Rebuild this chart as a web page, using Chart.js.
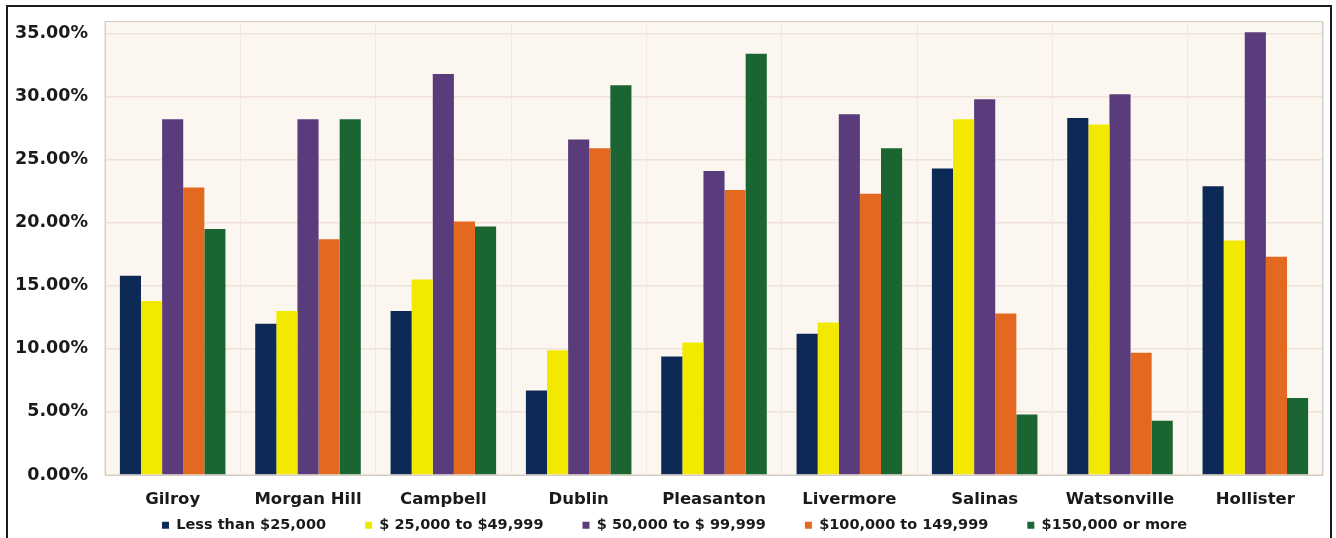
<!DOCTYPE html>
<html lang="en">
<head>
  <meta charset="UTF-8" />
  <title>Household Income by City</title>
  <script src="https://cdn.jsdelivr.net/npm/chart.js@4.4.0/dist/chart.umd.min.js"></script>
  <style>
    html, body {
      margin: 0;
      padding: 0;
      background: #ffffff;
      overflow: hidden;
    }

    .frame {
      position: absolute;
      left: 6px;
      top: 5px;
      width: 1322px;
      height: 560px;
      border: 2px solid #1a1a1a;
    }

    .chart-box {
      position: absolute;
      left: 0;
      top: 0;
      width: 1336px;
      height: 538px;
    }
  </style>
</head>
<body>

  <div class="frame"></div>
  <div class="chart-box">
    <canvas id="incomeChart"></canvas>
  </div>

  <script>
    const cities = ['Gilroy', 'Morgan Hill', 'Campbell', 'Dublin', 'Pleasanton', 'Livermore', 'Salinas', 'Watsonville', 'Hollister'];

    const seriesNames = ['Less than $25,000', '$ 25,000 to $49,999', '$ 50,000 to $ 99,999', '$100,000 to 149,999', '$150,000 or more'];
    const seriesColors = ['#0c2a55', '#f3e800', '#5a3c7c', '#e2691f', '#1b6532'];

    // percent of households per income band
    const under25k     = [15.8, 12.0, 13.0,  6.7,  9.4, 11.2, 24.3, 28.3, 22.9];
    const from25to50   = [13.8, 13.0, 15.5,  9.9, 10.5, 12.1, 28.2, 27.8, 18.6];
    const from50to100  = [28.2, 28.2, 31.8, 26.6, 24.1, 28.6, 29.8, 30.2, 35.1];
    const from100to150 = [22.8, 18.7, 20.1, 25.9, 22.6, 22.3, 12.8,  9.7, 17.3];
    const over150k     = [19.5, 28.2, 19.7, 30.9, 33.4, 25.9,  4.8,  4.3,  6.1];

    const yTicks = [0, 5, 10, 15, 20, 25, 30, 35];

    const seriesValues = [under25k, from25to50, from50to100, from100to150, over150k];

    // beige plot background, frame, and a legend tucked close under the city names
    const plotBackground = {
      id: 'plotBackground',
      beforeLayout(chart) {
        const lg = chart.legend;
        if (lg && !lg._pinned) {
          const fit = lg.fit;
          lg.fit = function () { fit.call(this); this.height = 27; };
          lg._pinned = true;
        }
      },
      afterLayout(chart) {
        const lg = chart.legend;
        lg.top = chart.chartArea.bottom + 4;
        lg.bottom = lg.top + 56;
        lg.left += 13;
        lg.right += 13;
      },
      beforeDraw(chart) {
        const { ctx, chartArea: a } = chart;
        ctx.save();
        ctx.fillStyle = '#fcf6f0';
        ctx.fillRect(a.left, a.top, a.right - a.left, a.bottom - a.top);
        ctx.restore();
      },
      afterDatasetsDraw(chart) {
        const { ctx, chartArea: a } = chart;
        ctx.save();
        ctx.strokeStyle = '#d2ccc6';
        ctx.lineWidth = 1;
        ctx.strokeRect(a.left + 0.5, a.top + 0.5, a.right - a.left - 1, a.bottom - a.top);
        ctx.restore();
      }
    };

    const ctx = document.getElementById('incomeChart').getContext('2d');

    new Chart(ctx, {
      type: 'bar',
      data: {
        labels: cities,
        datasets: seriesNames.map((name, i) => ({
          label: name,
          data: seriesValues[i],
          backgroundColor: seriesColors[i],
          borderWidth: 0,
          barPercentage: 1.0,
          categoryPercentage: 0.78
        }))
      },
      options: {
        responsive: true,
        maintainAspectRatio: false,
        animation: false,
        layout: {
          padding: { left: 0, top: 21, right: 13, bottom: 0 }
        },
        scales: {
          x: {
            grid: {
              color: '#f3e9e0',
              drawTicks: false
            },
            border: { display: false },
            ticks: {
              color: '#1a1a1a',
              padding: 15,
              font: { family: 'DejaVu Sans', size: 16.5, weight: 'bold' }
            },
            afterFit(scale) { scale.height = 36; }
          },
          y: {
            min: 0,
            max: 36,
            afterBuildTicks(scale) {
              scale.ticks = yTicks.map(v => ({ value: v }));
            },
            grid: {
              color: '#f0e2d6',
              lineWidth: 1.5,
              drawTicks: false
            },
            border: { display: false },
            ticks: {
              color: '#1a1a1a',
              padding: 17,
              font: { family: 'DejaVu Sans', size: 17.5, weight: 'bold' },
              callback: v => v.toFixed(2) + '%'
            },
            afterFit(scale) {
              scale.width = 105;
              scale.paddingTop = 0;
              scale.paddingBottom = 0;
            }
          }
        },
        plugins: {
          legend: {
            position: 'bottom',
            labels: {
              color: '#1a1a1a',
              boxWidth: 7,
              boxHeight: 7,
              padding: 39,
              font: { family: 'DejaVu Sans', size: 14.5, weight: 'bold' }
            }
          },
          tooltip: { enabled: false }
        }
      },
      plugins: [plotBackground]
    });
  </script>

</body>
</html>
